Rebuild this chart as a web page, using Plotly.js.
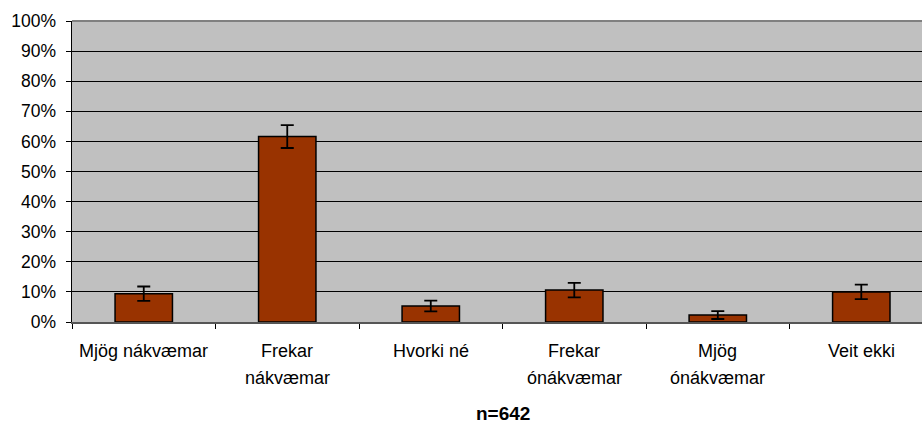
<!DOCTYPE html>
<html>
<head>
<meta charset="utf-8">
<script src="https://cdn.plot.ly/plotly-3.0.1.min.js"></script>
<style>html,body{margin:0;padding:0;background:#fff;}#chart{width:922px;height:425px;}</style>
</head>
<body>
<div id="chart"></div>
<script>
const categories = ['Mjög nákvæmar', 'Frekar<br>nákvæmar', 'Hvorki né', 'Frekar<br>ónákvæmar', 'Mjög<br>ónákvæmar', 'Veit ekki'];
const values = [0.094, 0.616, 0.053, 0.106, 0.023, 0.100];
const errors = [0.024, 0.038, 0.018, 0.024, 0.013, 0.024];
const yTickVals = [0, 0.1, 0.2, 0.3, 0.4, 0.5, 0.6, 0.7, 0.8, 0.9, 1.0];
const sampleLabel = 'n=642';

const FONT = 'Liberation Sans, Arial, sans-serif';
const catIdx = categories.map((c, i) => i);

const trace = {
  type: 'bar',
  x: catIdx,
  y: values,
  marker: {color: '#993300', line: {color: '#000000', width: 1.5}},
  error_y: {type: 'data', array: errors, visible: true, color: '#000000', thickness: 1.8, width: 6.5},
  hoverinfo: 'none'
};

const annotations = [];
categories.forEach((c, i) => {
  const lines = c.split('<br>');
  const ys = [-0.0953, -0.186];
  lines.forEach((ln, k) => {
    annotations.push({
      x: i, xref: 'x', y: ys[k], yref: 'paper', yanchor: 'middle', xanchor: 'center',
      text: ln, showarrow: false, font: {family: FONT, size: 18, color: '#000'}
    });
  });
});
annotations.push({
  x: 2.5, xref: 'x', y: -0.303, yref: 'paper', yanchor: 'middle', xanchor: 'center',
  text: '<b>' + sampleLabel + '</b>', showarrow: false, font: {family: FONT, size: 19, color: '#000'}
});

const layout = {
  width: 922, height: 425,
  margin: {l: 72, r: 0, t: 21, b: 103},
  paper_bgcolor: '#ffffff',
  plot_bgcolor: '#c0c0c0',
  bargap: 0.6,
  showlegend: false,
  font: {family: FONT, size: 17.5, color: '#000'},
  xaxis: {
    type: 'linear',
    range: [-0.5, 5.423],
    tickmode: 'array',
    tickvals: [-0.5, 0.5, 1.5, 2.5, 3.5, 4.5],
    showticklabels: false,
    ticks: 'outside', ticklen: 5, tickcolor: '#000', tickwidth: 1,
    showgrid: false, zeroline: false,
    showline: true, linecolor: '#555555', linewidth: 1.5,
    fixedrange: true
  },
  yaxis: {
    range: [0, 1],
    tickmode: 'array',
    tickvals: yTickVals,
    tickformat: '.0%',
    ticks: 'outside', ticklen: 5, tickcolor: '#000', tickwidth: 1,
    ticklabelstandoff: 6,
    showgrid: true, gridcolor: '#000000', gridwidth: 1,
    zeroline: false,
    showline: true, linecolor: '#000000', linewidth: 1.5,
    tickfont: {family: FONT, size: 17.5, color: '#000'},
    fixedrange: true
  },
  shapes: [
    {type: 'line', xref: 'paper', yref: 'paper', x0: 0, x1: 1, y0: 1, y1: 1, line: {color: '#808080', width: 2}}
  ],
  annotations: annotations
};

Plotly.newPlot('chart', [trace], layout, {displayModeBar: false, staticPlot: true});
</script>
</body>
</html>
